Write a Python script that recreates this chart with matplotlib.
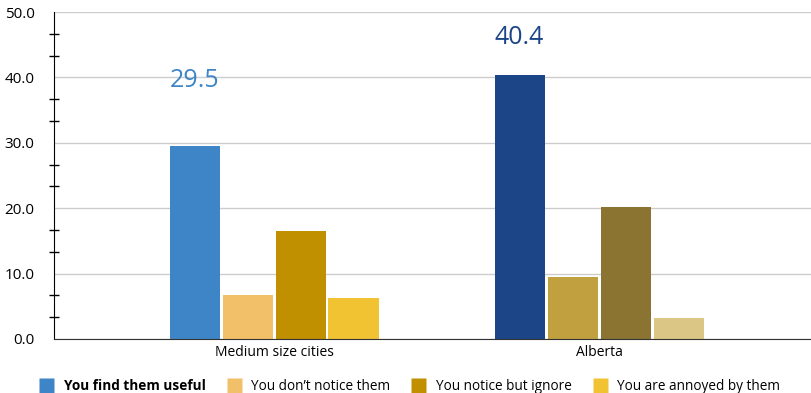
import matplotlib.pyplot as plt
from matplotlib.lines import Line2D
import numpy as np

categories = ["Medium size cities", "Alberta"]
series = ["You find them useful", "You don\u2019t notice them",
          "You notice but ignore", "You are annoyed by them"]
values = {
    "Medium size cities": [29.5, 6.7, 16.5, 6.3],
    "Alberta": [40.4, 9.5, 20.2, 3.2],
}
colors = {
    "Medium size cities": ["#3d85c6", "#f1c068", "#c09000", "#f1c232"],
    "Alberta": ["#1c4587", "#c1a040", "#8b7332", "#dcc686"],
}
label_colors = {"Medium size cities": "#3d85c6", "Alberta": "#1c4587"}
label_lift = {"Medium size cities": 47, "Alberta": 27}

plt.rcParams['font.family'] = ['Open Sans', 'DejaVu Sans']

fig = plt.figure(figsize=(8.11, 3.93), dpi=100)
ax = fig.add_axes([54 / 811, 1 - 339 / 393, (811 - 54) / 811, (339 - 12) / 393])

bar_w = 0.154
step = 0.163
offsets = (np.arange(4) - 1.5) * step

for ci, cat in enumerate(categories):
    for si, v in enumerate(values[cat]):
        ax.bar(ci + offsets[si], v, width=bar_w, color=colors[cat][si],
               edgecolor='none', zorder=3)
    top = values[cat][0]
    ax.annotate(f"{top:.1f}", (ci + offsets[0], top), xytext=(0, label_lift[cat]),
                textcoords='offset points', ha='center', va='center',
                fontsize=18, color=label_colors[cat])

ax.set_xlim(-0.677, 1.652)
ax.set_ylim(0, 50)
ax.set_yticks(np.arange(0, 51, 10))
ax.set_yticklabels([f"{t:.1f}" for t in np.arange(0, 51, 10)], fontsize=11)
ax.set_yticks([m for m in np.arange(0, 50, 10 / 3)
               if abs(m % 10) > 0.1 and abs(m % 10 - 10) > 0.1], minor=True)
ax.tick_params(axis='y', which='major', length=0, pad=14)
ax.tick_params(axis='y', which='minor', length=7, direction='inout', width=1, color='black')
ax.grid(axis='y', which='major', color='#cccccc', linewidth=1, zorder=0)

ax.set_xticks(range(len(categories)))
ax.set_xticklabels(categories, fontsize=10)
ax.tick_params(axis='x', length=0, pad=4)

for s in ['top', 'right']:
    ax.spines[s].set_visible(False)
ax.spines['left'].set_color('black')
ax.spines['bottom'].set_color('#333333')
ax.spines['left'].set_zorder(4)
ax.spines['bottom'].set_zorder(4)

handles = [Line2D([], [], marker='s', linestyle='none', markersize=10.8,
                  markerfacecolor=c, markeredgecolor='none')
           for c in colors["Medium size cities"]]
leg = fig.legend(handles, series, loc='center', bbox_to_anchor=(0.505, 1 - 386 / 393),
                 ncol=4, frameon=False, fontsize=9.8, handletextpad=0.75,
                 columnspacing=1.5, handlelength=1.1)
leg.get_texts()[0].set_fontweight('bold')

fig.savefig("out.png", dpi=100)
